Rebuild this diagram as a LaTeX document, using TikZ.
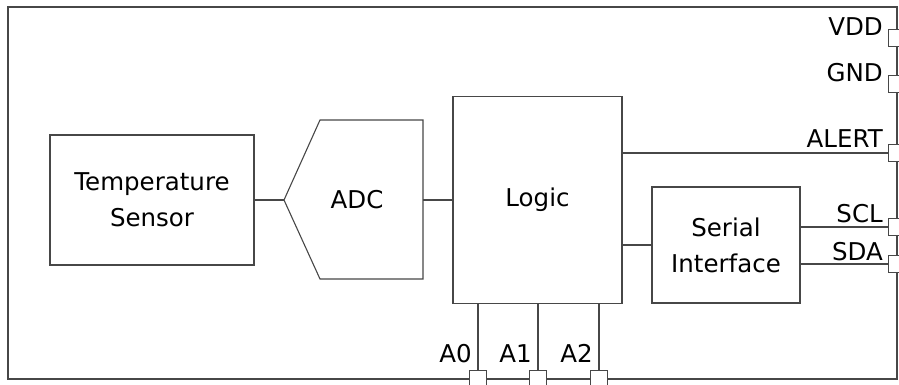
\documentclass[tikz,border=0pt]{standalone}
\usepackage{fontspec}
\setmainfont{DejaVu Sans}

\begin{document}
\begin{tikzpicture}[x=1pt, y=-1pt,
  wire/.style={draw=black!72, line width=1.1pt},
  blk/.style={wire, fill=white, align=center, inner sep=0pt,
    font=\fontsize{24.5}{36}\selectfont},
  pin/.style={wire, fill=white, minimum width=17pt, minimum height=17pt, inner sep=0pt},
  lbl/.style={font=\fontsize{24.5}{28}\selectfont, inner sep=0pt}]
  \useasboundingbox (0,0) rectangle (899,385);

  % 1. chip outline
  \draw[wire] (8,7) rectangle (897,379);

  % 2. blocks
  \node[blk, minimum width=204pt, minimum height=130pt] (sensor) at (152,200) {Temperature\\Sensor};
  \coordinate (adcw) at (284,200);
  \coordinate (adcnw) at (320,120);
  \coordinate (adcne) at (423,120);
  \coordinate (adcse) at (423,279);
  \coordinate (adcsw) at (320,279);
  \draw[wire] (adcw) -- (adcnw) -- (adcne) -- (adcse) -- (adcsw) -- cycle;
  \node[font=\fontsize{24.5}{28}\selectfont] (adc) at (357,200) {ADC};
  \coordinate (adce) at (423,200);
  \node[blk, minimum width=169pt, minimum height=207pt] (logic) at (537.5,200) {Logic};
  \node[blk, minimum width=148pt, minimum height=116pt] (serial) at (726,245) {Serial\\Interface};

  % 3. pins on the right
  \node[pin] (vdd) at (897,38) {};
  \node[pin] (gnd) at (897,84) {};
  \node[pin] (alert) at (897,153) {};
  \node[pin] (scl) at (897,227) {};
  \node[pin] (sda) at (897,264) {};
  \node[lbl, anchor=base east, xshift=-5pt, yshift=2pt] at (vdd.west) {VDD};
  \node[lbl, anchor=base east, xshift=-5pt, yshift=2pt] at (gnd.west) {GND};
  \node[lbl, anchor=base east, xshift=-5pt, yshift=6pt] at (alert.west) {ALERT};
  \node[lbl, anchor=base east, xshift=-5pt, yshift=5pt] at (scl.west) {SCL};
  \node[lbl, anchor=base east, xshift=-5pt, yshift=4pt] at (sda.west) {SDA};

  % 4. pins at the bottom
  \node[pin] (a0) at (478,379) {};
  \node[pin] (a1) at (538,379) {};
  \node[pin] (a2) at (599,379) {};
  \node[lbl, anchor=base east, xshift=-6pt, yshift=7pt] at (a0.north) {A0};
  \node[lbl, anchor=base east, xshift=-6pt, yshift=7pt] at (a1.north) {A1};
  \node[lbl, anchor=base east, xshift=-6pt, yshift=7pt] at (a2.north) {A2};

  % 5. connections
  \draw[wire] (sensor.east) -- (adcw);
  \draw[wire] (adce) -- (logic.west);
  \draw[wire] (logic.east |- serial.west) -- (serial.west);
  \draw[wire] (logic.east |- alert.west) -- (alert.west);
  \draw[wire] (serial.east |- scl.west) -- (scl.west);
  \draw[wire] (serial.east |- sda.west) -- (sda.west);
  \draw[wire] (a0.north) -- (a0.north |- logic.south);
  \draw[wire] (a1.north) -- (a1.north |- logic.south);
  \draw[wire] (a2.north) -- (a2.north |- logic.south);
\end{tikzpicture}
\end{document}
